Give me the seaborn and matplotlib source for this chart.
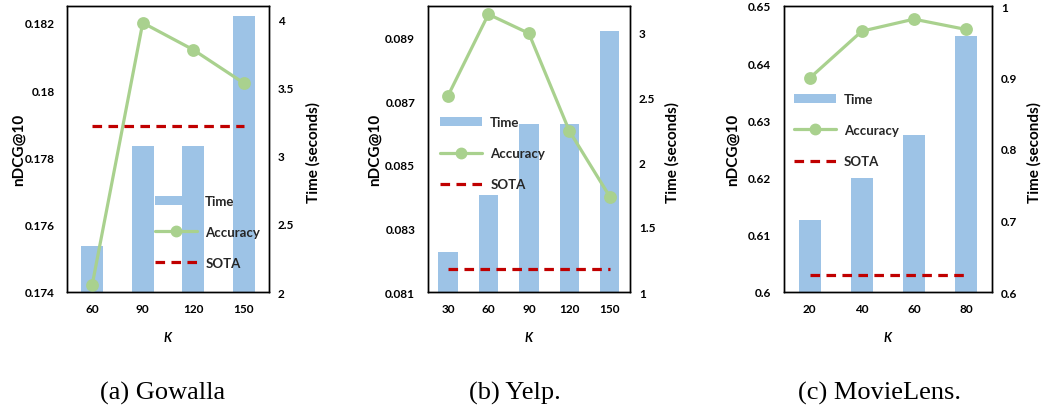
import numpy as np
import matplotlib
matplotlib.use("Agg")
import matplotlib.pyplot as plt
import seaborn as sns
from matplotlib.patches import Patch
from matplotlib.lines import Line2D

# ---------------- data ----------------
gowalla_k = ["60", "90", "120", "150"]
gowalla_time = [2.34, 3.07, 3.07, 4.03]
gowalla_acc = [0.17422, 0.18200, 0.18120, 0.18021]
gowalla_sota = 0.17892
gowalla_left_ticks = [0.174, 0.176, 0.178, 0.180, 0.182]
gowalla_left_labels = ["0.174", "0.176", "0.178", "0.18", "0.182"]
gowalla_right_ticks = [2, 2.5, 3, 3.5, 4]
gowalla_right_labels = ["2", "2.5", "3", "3.5", "4"]

yelp_k = ["30", "60", "90", "120", "150"]
yelp_time = [1.31, 1.75, 2.29, 2.29, 3.01]
yelp_acc = [0.08717, 0.08974, 0.08914, 0.08607, 0.08400]
yelp_sota = 0.08172
yelp_left_ticks = [0.081, 0.083, 0.085, 0.087, 0.089]
yelp_left_labels = ["0.081", "0.083", "0.085", "0.087", "0.089"]
yelp_right_ticks = [1, 1.5, 2, 2.5, 3]
yelp_right_labels = ["1", "1.5", "2", "2.5", "3"]

movie_k = ["20", "40", "60", "80"]
movie_time = [0.701, 0.760, 0.820, 0.958]
movie_acc = [0.6374, 0.6456, 0.6477, 0.6459]
movie_sota = 0.6030
movie_left_ticks = [0.60, 0.61, 0.62, 0.63, 0.64, 0.65]
movie_left_labels = ["0.6", "0.61", "0.62", "0.63", "0.64", "0.65"]
movie_right_ticks = [0.6, 0.7, 0.8, 0.9, 1.0]
movie_right_labels = ["0.6", "0.7", "0.8", "0.9", "1"]

captions = ["(a) Gowalla", "(b) Yelp.", "(c) MovieLens."]
legend_labels = ["Time", "Accuracy", "SOTA"]

# ---------------- style ----------------
sns.set_theme(style="white")
plt.rcParams["font.family"] = ["Lato", "DejaVu Sans"]
plt.rcParams["font.weight"] = "bold"

BAR = "#9DC3E6"
LINE = "#A9D18E"
SOTA = "#C00000"

fig = plt.figure(figsize=(10.41, 4.14), dpi=100)
W, H = 1041.0, 414.0

panels = [
    dict(k=gowalla_k, time=gowalla_time, acc=gowalla_acc, sota=gowalla_sota,
         lt=gowalla_left_ticks, ll=gowalla_left_labels, rt=gowalla_right_ticks, rl=gowalla_right_labels,
         ylim=(0.174, 0.1825), y2lim=(2, 4.1), px=(67, 269), bw=0.43,
         leg=(0.436, 0.34), ylab_x=-0.205, y2lab_x=1.183, cap_x=163),
    dict(k=yelp_k, time=yelp_time, acc=yelp_acc, sota=yelp_sota,
         lt=yelp_left_ticks, ll=yelp_left_labels, rt=yelp_right_ticks, rl=yelp_right_labels,
         ylim=(0.081, 0.090), y2lim=(1, 3.2), px=(427.7, 630), bw=0.48,
         leg=(0.061, 0.615), ylab_x=-0.226, y2lab_x=1.173, cap_x=515),
    dict(k=movie_k, time=movie_time, acc=movie_acc, sota=movie_sota,
         lt=movie_left_ticks, ll=movie_left_labels, rt=movie_right_ticks, rl=movie_right_labels,
         ylim=(0.60, 0.65), y2lim=(0.6, 1.0), px=(783.7, 992), bw=0.42,
         leg=(0.049, 0.696), ylab_x=-0.21, y2lab_x=1.168, cap_x=880),
]

top_px, bot_px = 7, 293
for i, p in enumerate(panels):
    l = p["px"][0] / W
    w = (p["px"][1] - p["px"][0]) / W
    b = 1 - bot_px / H
    h = (bot_px - top_px) / H
    ax = fig.add_axes([l, b, w, h])
    ax2 = ax.twinx()
    n = len(p["k"])

    sns.barplot(x=p["k"], y=p["time"], color=BAR, saturation=1, width=p["bw"],
                ax=ax2, order=p["k"], linewidth=0)
    sns.pointplot(x=p["k"], y=p["acc"], color=LINE, ax=ax, order=p["k"],
                  markers="o", linestyles="-", errorbar=None,
                  markersize=7.5, linewidth=2.3)
    sns.lineplot(x=p["k"], y=[p["sota"]] * n, ax=ax, color=SOTA, linewidth=2.3,
                 linestyle=(0, (3, 2)), sort=False)

    ax.set_zorder(ax2.get_zorder() + 1)
    ax.patch.set_visible(False)

    ax.set_xlim(-0.5, n - 0.5)
    ax.set_ylim(*p["ylim"])
    ax2.set_ylim(*p["y2lim"])
    ax.set_yticks(p["lt"])
    ax.set_yticklabels(p["ll"])
    ax2.set_yticks(p["rt"])
    ax2.set_yticklabels(p["rl"])

    ax.tick_params(axis="both", length=0, labelsize=8.5, labelcolor="black")
    ax.tick_params(axis="y", pad=9)
    ax.tick_params(axis="x", pad=8)
    ax2.tick_params(axis="y", length=0, labelsize=8.5, pad=6.5, labelcolor="black")
    for t in ax.get_xticklabels() + ax.get_yticklabels() + ax2.get_yticklabels():
        t.set_fontweight("bold")

    for a in (ax, ax2):
        for s in a.spines.values():
            s.set_visible(True)
            s.set_color("black")
            s.set_linewidth(1.0)

    ax.set_ylabel("nDCG@10", fontsize=11, fontweight="bold", color="black")
    ax.yaxis.set_label_coords(p["ylab_x"], 0.5)
    ax2.set_ylabel("Time (seconds)", fontsize=11, fontweight="bold", color="black")
    ax2.yaxis.set_label_coords(p["y2lab_x"], 0.49)
    ax.set_xlabel("K", fontsize=9, fontweight="bold", fontstyle="italic", color="black")
    ax.xaxis.set_label_coords(0.5, -0.135)
    ax2.set_xlabel("")

    handles = [
        Patch(facecolor=BAR, edgecolor="none"),
        Line2D([], [], color=LINE, linewidth=2.3, marker="o", markersize=7.5),
        Line2D([], [], color=SOTA, linewidth=2.3, linestyle=(0, (3, 2))),
    ]
    ax.legend(handles, legend_labels, loc="upper left", bbox_to_anchor=p["leg"],
              frameon=False, borderpad=0, borderaxespad=0, handlelength=3.2,
              handletextpad=0.6, labelspacing=1.45, numpoints=1,
              prop=dict(family=["Lato", "DejaVu Sans"], weight="bold", size=9.5))

    fig.text(p["cap_x"] / W, 1 - 393 / H, captions[i], ha="center", va="center",
             family="Liberation Serif", fontweight="normal", fontsize=19, color="black")

fig.savefig("out.png", dpi=100, facecolor="white")
